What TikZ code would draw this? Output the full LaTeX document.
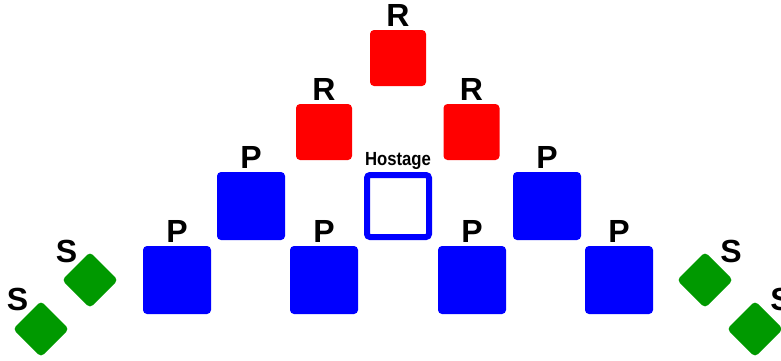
\documentclass[tikz,border=0pt]{standalone}
\usepackage{graphicx}
\usepackage{fontspec}
\setmainfont{Liberation Sans}
\definecolor{rred}{RGB}{255,0,0}
\definecolor{bblue}{RGB}{0,0,255}
\definecolor{ggreen}{RGB}{0,153,0}
\begin{document}
\begin{tikzpicture}[x=1pt,y=-1pt,
  redbox/.style={fill=rred,draw=none,rounded corners=4pt,minimum size=56pt,inner sep=0pt},
  bluebox/.style={fill=bblue,draw=none,rounded corners=4pt,minimum size=68pt,inner sep=0pt},
  hostbox/.style={draw=bblue,line width=6pt,fill=white,rounded corners=3pt,minimum size=62pt,inner sep=0pt},
  greenbox/.style={fill=ggreen,draw=none,rounded corners=4pt,minimum size=39.6pt,inner sep=0pt,rotate=45},
  lbl/.style={font=\fontsize{32}{32}\selectfont\bfseries,inner sep=0pt,anchor=base},
  hlbl/.style={font=\fontsize{19}{19}\selectfont\bfseries,inner sep=0pt,anchor=base}]
\useasboundingbox (0,0) rectangle (781,360);
% red
\node[redbox] (r1) at (398,58) {};
\node[redbox] (r2) at (324,132) {};
\node[redbox] (r3) at (471.5,132) {};
% hostage
\node[hostbox] (h) at (398,206) {};
% blue
\node[bluebox] (p1) at (251,206) {};
\node[bluebox] (p2) at (547,206) {};
\node[bluebox] (p3) at (177,280) {};
\node[bluebox] (p4) at (324,280) {};
\node[bluebox] (p5) at (472,280) {};
\node[bluebox] (p6) at (619,280) {};
% green
\node[greenbox] (s1) at (41,329) {};
\node[greenbox] (s2) at (90,280) {};
\node[greenbox] (s3) at (705,280) {};
\node[greenbox] (s4) at (755,329) {};
% labels
\node[lbl] (lr1) at ([yshift=3pt]r1.north) {R};
\node[lbl] (lr2) at ([yshift=3pt]r2.north) {R};
\node[lbl] (lr3) at ([yshift=3pt]r3.north) {R};
\node[hlbl] (lh) at ([yshift=7pt]h.north) {\scalebox{0.88}[1]{Hostage}};
\node[lbl] (lp1) at ([yshift=3pt]p1.north) {P};
\node[lbl] (lp2) at ([yshift=3pt]p2.north) {P};
\node[lbl] (lp3) at ([yshift=3pt]p3.north) {P};
\node[lbl] (lp4) at ([yshift=3pt]p4.north) {P};
\node[lbl] (lp5) at ([yshift=3pt]p5.north) {P};
\node[lbl] (lp6) at ([yshift=3pt]p6.north) {P};
\node[lbl] (ls1) at ([xshift=-23.5pt,yshift=19pt]s1.center) {S};
\node[lbl] (ls2) at ([xshift=-23.5pt,yshift=18pt]s2.center) {S};
\node[lbl] (ls3) at ([xshift=26pt,yshift=18pt]s3.center) {S};
\node[lbl] (ls4) at ([xshift=26pt,yshift=19pt]s4.center) {S};
\end{tikzpicture}
\end{document}
